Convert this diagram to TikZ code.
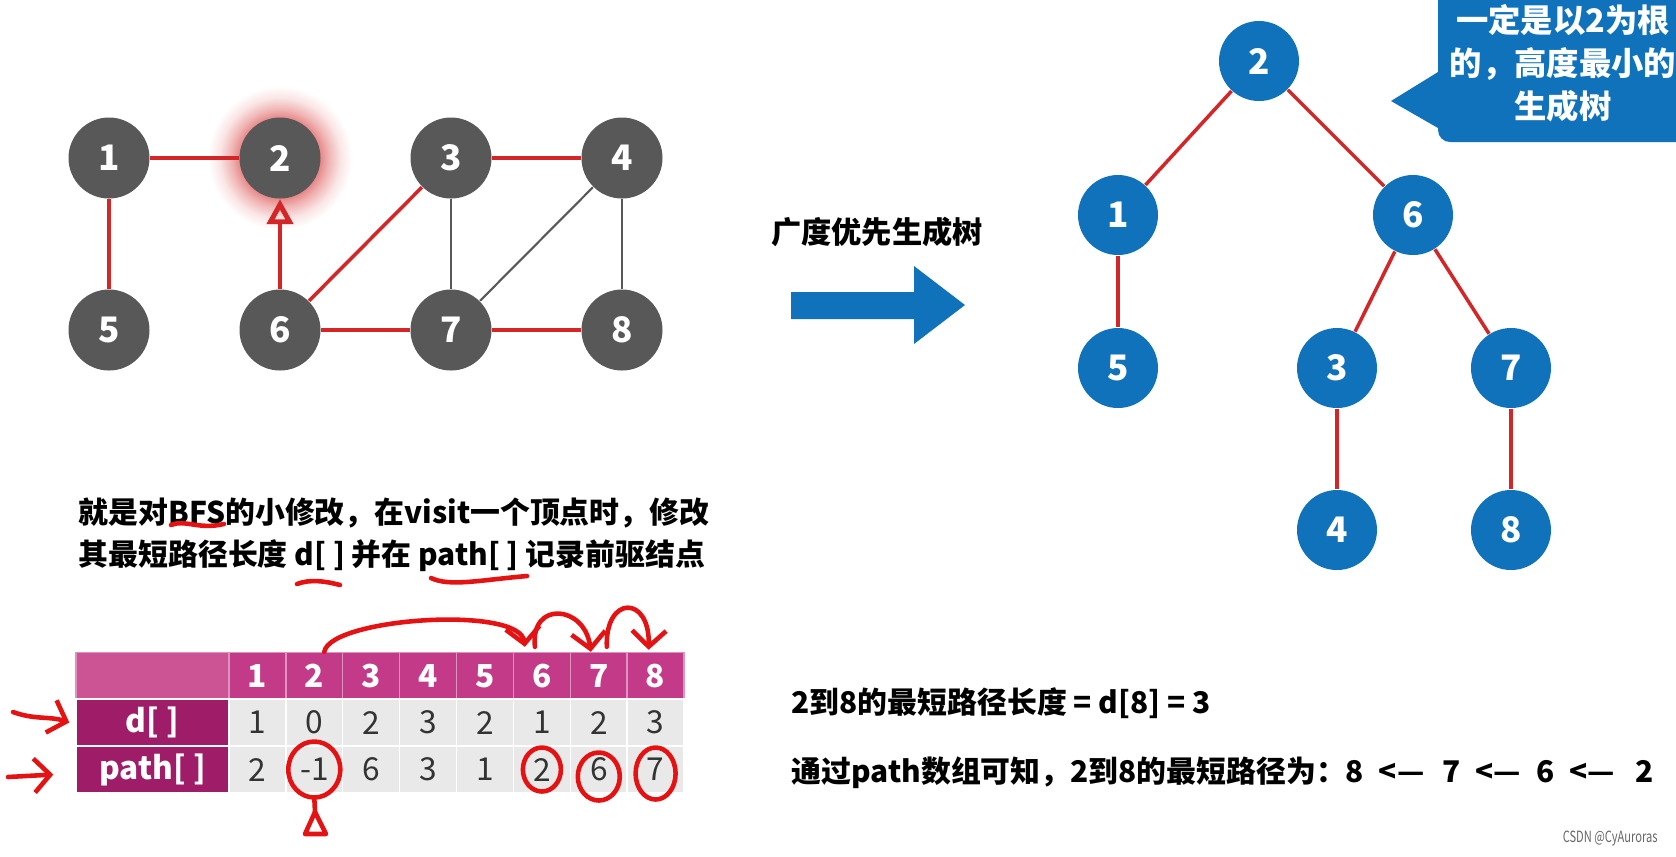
\documentclass[tikz,border=0pt]{standalone}
\usepackage{fontspec}
\setmainfont{Noto Sans CJK SC}
\usetikzlibrary{arrows.meta}

\definecolor{nodegray}{RGB}{88,88,88}
\definecolor{edgered}{RGB}{212,38,38}
\definecolor{penred}{RGB}{228,18,18}
\definecolor{treeblue}{RGB}{16,114,186}
\definecolor{headpink}{RGB}{194,58,136}
\definecolor{cornerpink}{RGB}{204,84,148}
\definecolor{labelpurple}{RGB}{158,28,104}
\definecolor{cellgray}{RGB}{233,233,233}

\pgfdeclareradialshading{redglow}{\pgfpoint{0cm}{0cm}}{color(0bp)=(edgered!60); color(14bp)=(edgered!55); color(17bp)=(edgered!34); color(21bp)=(edgered!12); color(25bp)=(white); color(50bp)=(white)}

\begin{document}
\begin{tikzpicture}[
            gnode/.style={
                circle,
                fill=nodegray,
                text=white,
                minimum size=0.81cm,
                inner sep=0pt,
                font=\fontsize{10}{12}\selectfont\bfseries
            },
            tnode/.style={
                circle,
                fill=treeblue,
                text=white,
                minimum size=0.80cm,
                inner sep=0pt,
                font=\fontsize{10}{12}\selectfont\bfseries
            },
            redge/.style={draw=edgered, line width=1pt},
            gedge/.style={draw=nodegray, line width=0.6pt},
            cell/.style={
                rectangle,
                draw=white,
                line width=0.4pt,
                minimum width=0.569cm,
                minimum height=0.47cm,
                inner sep=0pt,
                font=\fontsize{9}{11}\selectfont
            },
            headcell/.style={cell, fill=headpink, draw=headpink!55!white, text=white, font=\fontsize{9}{11}\selectfont\bfseries},
            cornercell/.style={headcell, fill=cornerpink, minimum width=1.53cm},
            labelcell/.style={cell, fill=labelpurple, text=white, minimum width=1.53cm, font=\fontsize{9}{11}\selectfont\bfseries},
            datacell/.style={cell, fill=cellgray, text=black!80},
            pen/.style={draw=penred, line width=1.3pt, line cap=round, line join=round},
            barb/.style={-{Straight Barb[length=1.6mm, width=3.4mm]}},
            txt/.style={anchor=west, inner sep=0pt, font=\fontsize{8.5}{10}\selectfont\bfseries}
        ]
        \useasboundingbox (0,0) rectangle (16.76,-8.56);

        % Glow round vertex 2
        \shade[shading=redglow] (2.80,-1.58) circle (0.72);

        % Graph vertices
        \node[gnode] (g1) at (1.09,-1.58) {1};
        \node[gnode] (g2) at (2.80,-1.58) {2};
        \node[gnode] (g3) at (4.51,-1.58) {3};
        \node[gnode] (g4) at (6.22,-1.58) {4};
        \node[gnode] (g5) at (1.09,-3.30) {5};
        \node[gnode] (g6) at (2.80,-3.30) {6};
        \node[gnode] (g7) at (4.51,-3.30) {7};
        \node[gnode] (g8) at (6.22,-3.30) {8};

        % Graph edges
        \draw[redge] (g1) -- (g2);
        \draw[redge] (g1) -- (g5);
        \draw[redge, -{Triangle[open, length=2.5mm, width=2.6mm, line width=1.4pt]}] (g6) -- (g2);
        \draw[redge] (g3) -- (g4);
        \draw[redge] (g6) -- (g3);
        \draw[gedge] (g3) -- (g7);
        \draw[gedge] (g7) -- (g4);
        \draw[gedge] (g4) -- (g8);
        \draw[redge] (g6) -- (g7);
        \draw[redge] (g7) -- (g8);

        % Big arrow and its label
        \fill[treeblue] (7.91,-2.92) -- (9.14,-2.92) -- (9.14,-2.66) -- (9.65,-3.05)
            -- (9.14,-3.44) -- (9.14,-3.19) -- (7.91,-3.19) -- cycle;
        \node[font=\fontsize{8.6}{10}\selectfont\bfseries] (bfslabel) at (8.77,-2.32) {广度优先生成树};

        % Tree vertices
        \node[tnode] (t2) at (12.59,-0.61) {2};
        \node[tnode] (t1) at (11.18,-2.15) {1};
        \node[tnode] (t6) at (14.13,-2.15) {6};
        \node[tnode] (t5) at (11.18,-3.68) {5};
        \node[tnode] (t3) at (13.37,-3.68) {3};
        \node[tnode] (t7) at (15.11,-3.68) {7};
        \node[tnode] (t4) at (13.37,-5.30) {4};
        \node[tnode] (t8) at (15.11,-5.30) {8};

        % Tree edges
        \draw[redge] (t2) -- (t1);
        \draw[redge] (t2) -- (t6);
        \draw[redge] (t1) -- (t5);
        \draw[redge] (t6) -- (t3);
        \draw[redge] (t6) -- (t7);
        \draw[redge] (t3) -- (t4);
        \draw[redge] (t7) -- (t8);

        % Callout
        \fill[treeblue] (14.38,0.1) -- (14.38,-0.72) -- (13.91,-1.01) -- (14.38,-1.28)
            [rounded corners=0.12cm] -- (14.38,-1.42) -- (16.9,-1.42) [sharp corners] -- (16.9,0.1) -- cycle;
        \node[align=center, text=white, font=\fontsize{9.2}{12.2}\selectfont\bfseries] (note) at (15.63,-0.63)
            {一定是以2为根\\的，高度最小的\\生成树};

        % Description
        \node[txt] (line1) at (0.78,-5.13) {就是对BFS的小修改，在visit一个顶点时，修改};
        \node[txt] (line2) at (0.78,-5.56) {其最短路径长度 d[ ] 并在 path[ ] 记录前驱结点};

        % Table header
        \node[cornercell] (corner) at (1.525,-6.76) {};
        \node[headcell] (h1) at (2.574,-6.76) {1};
        \node[headcell] (h2) at (3.143,-6.76) {2};
        \node[headcell] (h3) at (3.712,-6.76) {3};
        \node[headcell] (h4) at (4.281,-6.76) {4};
        \node[headcell] (h5) at (4.850,-6.76) {5};
        \node[headcell] (h6) at (5.419,-6.76) {6};
        \node[headcell] (h7) at (5.988,-6.76) {7};
        \node[headcell] (h8) at (6.556,-6.76) {8};

        % Row d[ ]
        \node[labelcell] (lbd) at (1.525,-7.225) {d[ ]};
        \node[datacell] (d1) at (2.574,-7.225) {1};
        \node[datacell] (d2) at (3.143,-7.225) {0};
        \node[datacell] (d3) at (3.712,-7.225) {2};
        \node[datacell] (d4) at (4.281,-7.225) {3};
        \node[datacell] (d5) at (4.850,-7.225) {2};
        \node[datacell] (d6) at (5.419,-7.225) {1};
        \node[datacell] (d7) at (5.988,-7.225) {2};
        \node[datacell] (d8) at (6.556,-7.225) {3};

        % Row path[ ]
        \node[labelcell] (lbp) at (1.525,-7.695) {path[ ]};
        \node[datacell] (p1) at (2.574,-7.695) {2};
        \node[datacell] (p2) at (3.143,-7.695) {-1};
        \node[datacell] (p3) at (3.712,-7.695) {6};
        \node[datacell] (p4) at (4.281,-7.695) {3};
        \node[datacell] (p5) at (4.850,-7.695) {1};
        \node[datacell] (p6) at (5.419,-7.695) {2};
        \node[datacell] (p7) at (5.988,-7.695) {6};
        \node[datacell] (p8) at (6.556,-7.695) {7};

        % Hand marks
        \draw[pen] (1.71,-5.25) .. controls (1.85,-5.19) and (1.98,-5.30) .. (2.24,-5.24);
        \draw[pen] (2.97,-5.84) .. controls (3.10,-5.79) and (3.25,-5.81) .. (3.40,-5.85);
        \draw[pen] (4.31,-5.78) .. controls (4.50,-5.87) and (4.80,-5.80) .. (5.27,-5.76);
        \draw[pen, barb] ([xshift=0.1cm]h2.north) .. controls (3.30,-6.18) and (5.20,-6.05) .. ([xshift=-0.17cm,yshift=0.05cm]h6.north);
        \draw[pen, barb] ([xshift=-0.07cm,yshift=0.05cm]h6.north) .. controls (5.30,-6.00) and (5.85,-6.05) .. ([xshift=-0.08cm]h7.north);
        \draw[pen, barb] ([xshift=0.08cm,yshift=0.05cm]h7.north) .. controls (6.05,-5.95) and (6.50,-5.95) .. ([xshift=-0.07cm,yshift=0.02cm]h8.north);
        \draw[pen, barb] (0.13,-7.12) .. controls (0.35,-7.20) and (0.50,-7.16) .. ([xshift=-0.06cm]lbd.west);
        \draw[pen, barb] (0.08,-7.77) -- ([xshift=-0.22cm,yshift=-0.05cm]lbp.west);
        \draw[pen] (p2) ellipse (0.26 and 0.28);
        \draw[pen] (p6) ellipse (0.19 and 0.22);
        \draw[pen] ([yshift=-0.07cm]p7) ellipse (0.21 and 0.24);
        \draw[pen] ([yshift=-0.04cm]p8) ellipse (0.20 and 0.26);
        \draw[pen] ([yshift=-0.28cm]p2.center) -- (3.15,-8.12);
        \draw[pen] (3.05,-8.34) -- (3.15,-8.12) -- (3.26,-8.34) -- cycle;

        % Result lines
        \node[txt] (len) at (7.91,-7.03) {2到8的最短路径长度 = d[8] = 3};
        \node[txt] (route) at (7.91,-7.73) {通过path数组可知，2到8的最短路径为：8\hspace{0.5em}<—\hspace{0.6em}7\hspace{0.5em}<—\hspace{0.5em}6\hspace{0.5em}<—\hspace{0.7em}2};
        \node[anchor=east, font=\fontsize{4.4}{5}\selectfont, text=black!60] (wm) at (16.70,-8.39) {\scalebox{0.72}[1]{CSDN @CyAuroras}};

        \end{tikzpicture}
\end{document}
